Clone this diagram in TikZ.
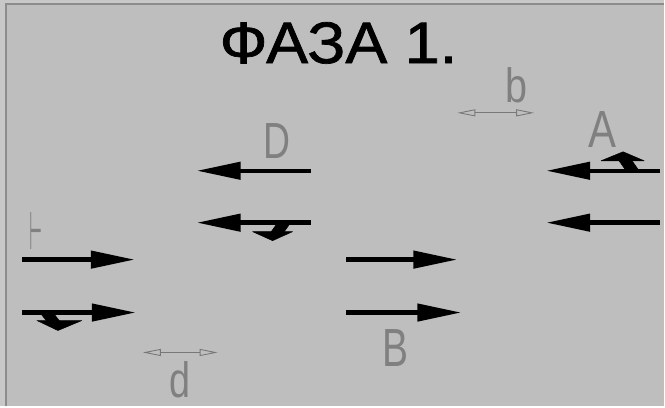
\documentclass[tikz,border=0pt]{standalone}
\usepackage{fontspec}
\setmainfont{Liberation Sans}
\newfontfamily\titlefont{Liberation Sans}[RawFeature={embolden=1.2}]
\newfontfamily\symfont{DejaVu Sans}
\usetikzlibrary{arrows.meta}
\definecolor{bgout}{RGB}{200,200,200}
\definecolor{bgin}{RGB}{190,190,190}
\definecolor{framec}{RGB}{140,140,140}
\definecolor{labc}{RGB}{128,128,128}
\definecolor{dimc}{RGB}{120,120,120}
\tikzset{
  bigarrow/.style={line width=4.5pt, -{Triangle[length=44pt,width=17pt]}},
  dimarrow/.style={dimc, line width=0.9pt, {Triangle[open,length=18pt,width=7pt]}-{Triangle[open,length=18pt,width=7pt]}},
  lbl/.style={labc, inner sep=0pt},
  turnmark/.style={fill=black, draw=black, line width=0.5pt, line join=round},
}
\begin{document}
\begin{tikzpicture}[x=1pt,y=-1pt]
\fill[bgout] (0,0) rectangle (665,407);
\fill[bgin] (6,4) rectangle (665,407);
\draw[framec, line width=2pt] (6,407) -- (6,4) -- (665,4);
\useasboundingbox (0,0) rectangle (665,407);

\node[inner sep=0pt, font=\titlefont] (title) at (339,43) {\resizebox{238pt}{41pt}{ФАЗА 1.}};

% labels
\node[lbl] (labD) at (277,141) {\resizebox{27pt}{35pt}{D}};
\node[lbl] (labA) at (603,130) {\resizebox{28pt}{36pt}{A}};
\node[lbl] (labb) at (517,85.5) {\resizebox{22pt}{35pt}{b}};
\node[lbl] (labB) at (396,348.5) {\resizebox{26pt}{37pt}{B}};
\node[lbl] (labd) at (180.5,380) {\resizebox{21pt}{36pt}{d}};
\node[lbl, font=\symfont] (labF) at (36.5,231.5) {\resizebox{13pt}{37pt}{⊢}};

% dimension arrows
\coordinate (b1) at (458,113);
\coordinate (b2) at (535,113);
\draw[dimarrow] (b1) -- (b2);
\coordinate (d1) at (143,353);
\coordinate (d2) at (218,353);
\draw[dimarrow] (d1) -- (d2);

% D arrows
\coordinate (D1s) at (311,171); \coordinate (D1e) at (197,171);
\coordinate (D2s) at (311,223); \coordinate (D2e) at (197,223);
\draw[bigarrow] (D1s) -- (D1e);
\draw[bigarrow] (D2s) -- (D2e);
% A arrows
\coordinate (A1s) at (661,171); \coordinate (A1e) at (547,171);
\coordinate (A2s) at (661,223); \coordinate (A2e) at (547,223);
\draw[bigarrow] (A1s) -- (A1e);
\draw[bigarrow] (A2s) -- (A2e);
% F arrows
\coordinate (F1s) at (22,260); \coordinate (F1e) at (135,260);
\coordinate (F2s) at (22,313); \coordinate (F2e) at (136,313);
\draw[bigarrow] (F1s) -- (F1e);
\draw[bigarrow] (F2s) -- (F2e);
% B arrows
\coordinate (B1s) at (347,260); \coordinate (B1e) at (458,260);
\coordinate (B2s) at (347,313); \coordinate (B2e) at (462,313);
\draw[bigarrow] (B1s) -- (B1e);
\draw[bigarrow] (B2s) -- (B2e);

% turn marks
\filldraw[turnmark] (278,223) -- (291,223) -- (284,233) -- (271,233) -- cycle;
\filldraw[turnmark] (253,232) -- (293,232) -- (273,241) -- cycle;
\filldraw[turnmark] (40,313) -- (53,313) -- (60,322) -- (47,322) -- cycle;
\filldraw[turnmark] (37,321) -- (82,321) -- (58,331) -- cycle;
\filldraw[turnmark] (620,161) -- (633,161) -- (640,171) -- (627,171) -- cycle;
\filldraw[turnmark] (602,161) -- (645,161) -- (624,152) -- cycle;
\end{tikzpicture}
\end{document}
